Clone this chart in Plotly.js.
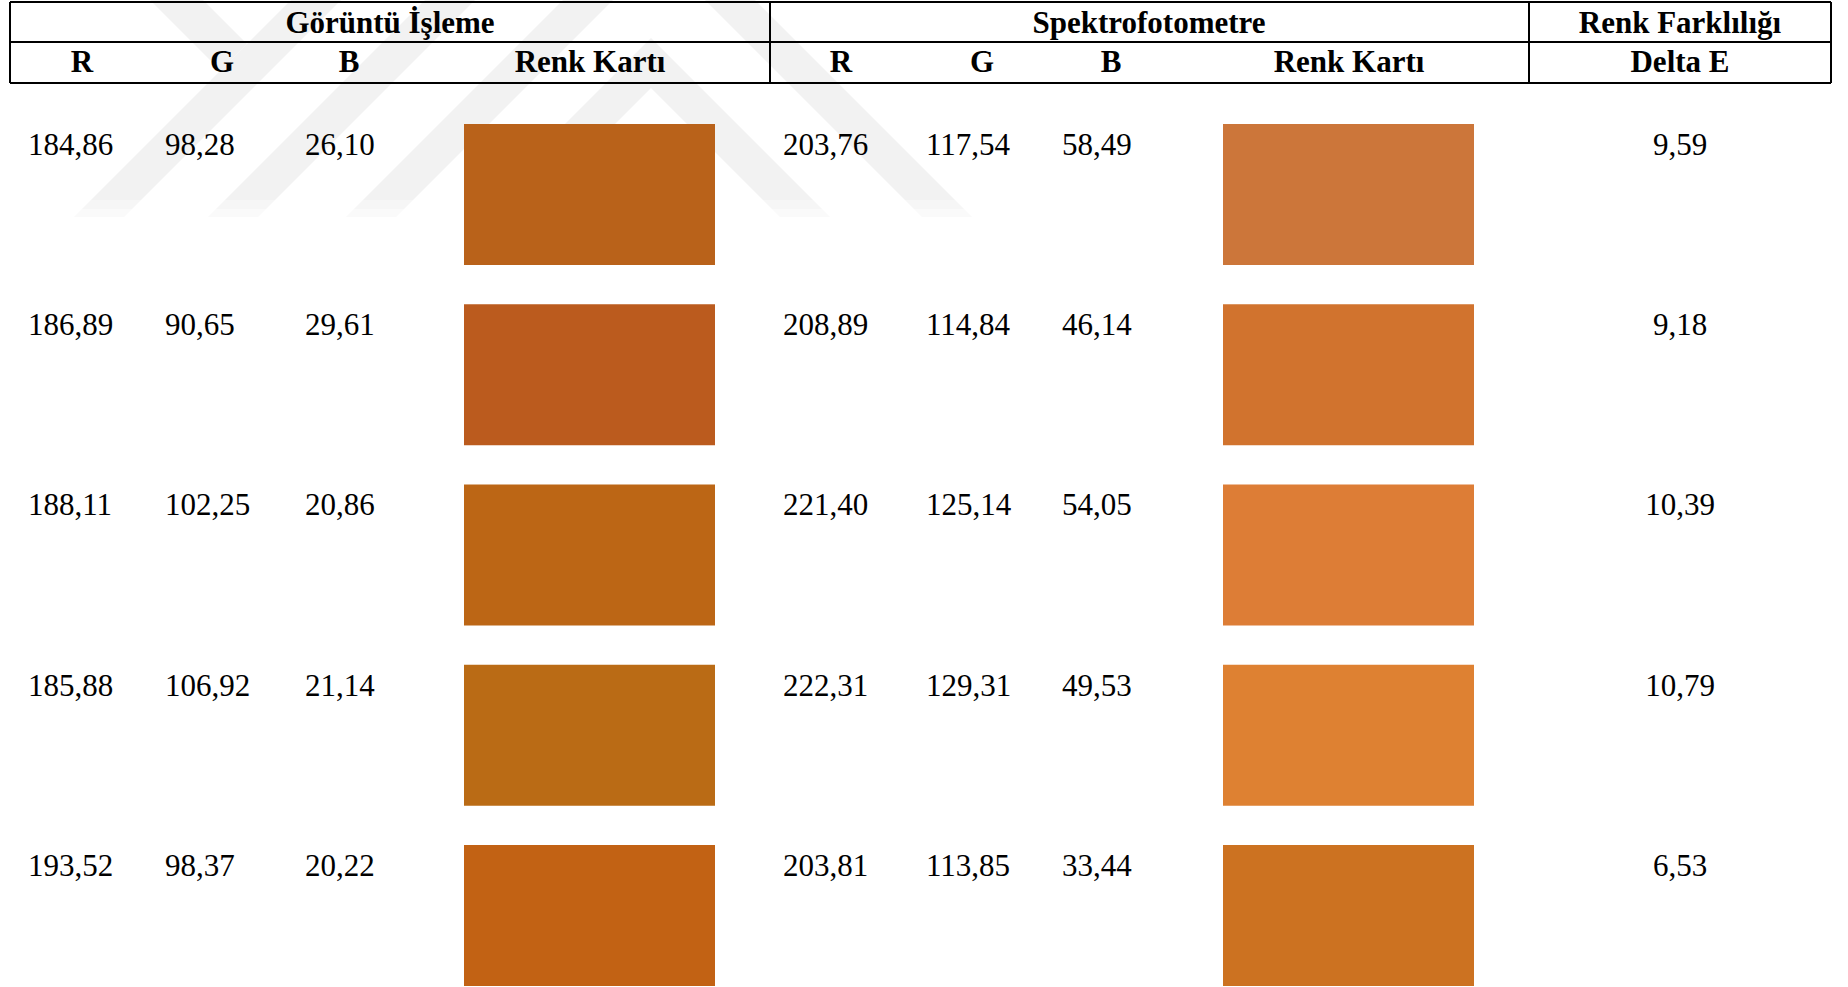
<!DOCTYPE html>
<html>
<head>
<meta charset="utf-8">
<script src="https://cdn.plot.ly/plotly-3.0.1.min.js"></script>
<style>html,body{margin:0;padding:0;background:#fff;}#chart{width:1848px;height:987px;}</style>
</head>
<body>
<div id="chart"></div>
<script>
// ---- data ----
var groupHeaders = ['Görüntü İşleme', 'Spektrofotometre', 'Renk Farklılığı'];
var colHeaders = ['R', 'G', 'B', 'Renk Kartı', 'R', 'G', 'B', 'Renk Kartı', 'Delta E'];
var goruntuR = [184.86, 186.89, 188.11, 185.88, 193.52];
var goruntuG = [98.28, 90.65, 102.25, 106.92, 98.37];
var goruntuB = [26.10, 29.61, 20.86, 21.14, 20.22];
var spektroR = [203.76, 208.89, 221.40, 222.31, 203.81];
var spektroG = [117.54, 114.84, 125.14, 129.31, 113.85];
var spektroB = [58.49, 46.14, 54.05, 49.53, 33.44];
var deltaE = [9.59, 9.18, 10.39, 10.79, 6.53];

// ---- layout constants (pixel space) ----
var W = 1848, H = 987;
var groupX = [390, 1149, 1680];
var groupY = 25.5;
var colX = [82, 222, 349, 590, 841, 982, 1111, 1349, 1680];
var colY = 64;
var dataLeftX = [28, 165, 305, 783, 926, 1062];
var deltaX = 1680;
var rowY0 = 147, rowStep = 180.25;
var swTop0 = 124, swH = 141, swW = 251;
var swX = [589.5, 1348.5];
var serif = 'Liberation Serif, Times New Roman, serif';
var fs = 31;

function fmt(v) { return v.toFixed(2).replace('.', ','); }
function rgb(r, g, b) { return 'rgb(' + Math.round(r) + ',' + Math.round(g) + ',' + Math.round(b) + ')'; }

var n = deltaE.length;
var rowYs = [], swBases = [];
for (var i = 0; i < n; i++) { rowYs.push(rowY0 + rowStep * i); swBases.push(swTop0 + rowStep * i); }

var traces = [];
// swatches (colour = measured RGB)
var gCols = goruntuR.map(function (r, i) { return rgb(r, goruntuG[i], goruntuB[i]); });
var sCols = spektroR.map(function (r, i) { return rgb(r, spektroG[i], spektroB[i]); });
[gCols, sCols].forEach(function (cols, k) {
  traces.push({
    type: 'bar', x: rowYs.map(function () { return swX[k]; }), y: rowYs.map(function () { return swH; }),
    base: swBases, width: swW, marker: { color: cols, line: { width: 0 } },
    hoverinfo: 'skip', showlegend: false
  });
});
// data text columns
var cols = [goruntuR, goruntuG, goruntuB, spektroR, spektroG, spektroB];
cols.forEach(function (arr, k) {
  traces.push({
    type: 'scatter', mode: 'text', x: arr.map(function () { return dataLeftX[k]; }), y: rowYs,
    text: arr.map(fmt), textposition: 'middle right',
    textfont: { family: serif, size: fs, color: '#000' }, hoverinfo: 'skip', showlegend: false
  });
});
traces.push({
  type: 'scatter', mode: 'text', x: deltaE.map(function () { return deltaX; }), y: rowYs,
  text: deltaE.map(fmt), textposition: 'middle center',
  textfont: { family: serif, size: fs, color: '#000' }, hoverinfo: 'skip', showlegend: false
});
// headers
traces.push({
  type: 'scatter', mode: 'text', x: groupX, y: groupX.map(function () { return groupY; }),
  text: groupHeaders.map(function (t) { return '<b>' + t + '</b>'; }), textposition: 'middle center',
  textfont: { family: serif, size: fs, color: '#000' }, hoverinfo: 'skip', showlegend: false
});
traces.push({
  type: 'scatter', mode: 'text', x: colX, y: colX.map(function () { return colY; }),
  text: colHeaders.map(function (t) { return '<b>' + t + '</b>'; }), textposition: 'middle center',
  textfont: { family: serif, size: fs, color: '#000' }, hoverinfo: 'skip', showlegend: false
});

// watermark (faint logo) and table rules
var wm = '#f2f2f2';
var shapes = [
  { type: 'path', path: 'M74,217 L124,217 L341,0 L291,0 Z' },
  { type: 'path', path: 'M208,217 L258,217 L475,0 L425,0 Z' },
  { type: 'path', path: 'M346,217 L396,217 L659,-46 L922,217 L972,217 L659,-96 Z' },
  { type: 'path', path: 'M472,217 L522,217 L651,88 L780,217 L830,217 L651,38 Z' },
  { type: 'path', path: 'M150,0 L203,0 L247,44 L220.5,70.5 Z' }
].map(function (s) {
  s.xref = 'x'; s.yref = 'y'; s.fillcolor = wm; s.line = { width: 0 }; s.layer = 'below'; return s;
});
// soft fade at the bottom of the watermark
shapes.push({ type: 'rect', xref: 'x', yref: 'y', x0: 0, x1: 1000, y0: 200, y1: 209, fillcolor: '#fff', opacity: 0.3, line: { width: 0 }, layer: 'below' });
shapes.push({ type: 'rect', xref: 'x', yref: 'y', x0: 0, x1: 1000, y0: 209, y1: 218, fillcolor: '#fff', opacity: 0.6, line: { width: 0 }, layer: 'below' });
function line(x0, y0, x1, y1) {
  return { type: 'line', xref: 'x', yref: 'y', x0: x0, y0: y0, x1: x1, y1: y1, line: { color: '#000', width: 2 }, layer: 'above' };
}
shapes.push(line(10, 2, 1831, 2));
shapes.push(line(10, 42, 1831, 42));
shapes.push(line(10, 83, 1831, 83));
shapes.push(line(10, 2, 10, 83));
shapes.push(line(1831, 2, 1831, 83));
shapes.push(line(770, 2, 770, 83));
shapes.push(line(1529, 2, 1529, 83));

var layout = {
  width: W, height: H, margin: { l: 0, r: 0, t: 0, b: 0, pad: 0 },
  paper_bgcolor: '#fff', plot_bgcolor: '#fff', showlegend: false, barmode: 'overlay',
  xaxis: { range: [0, W], visible: false, fixedrange: true },
  yaxis: { range: [H, 0], visible: false, fixedrange: true },
  shapes: shapes
};
Plotly.newPlot('chart', traces, layout, { displayModeBar: false, staticPlot: true });
</script>
</body>
</html>
